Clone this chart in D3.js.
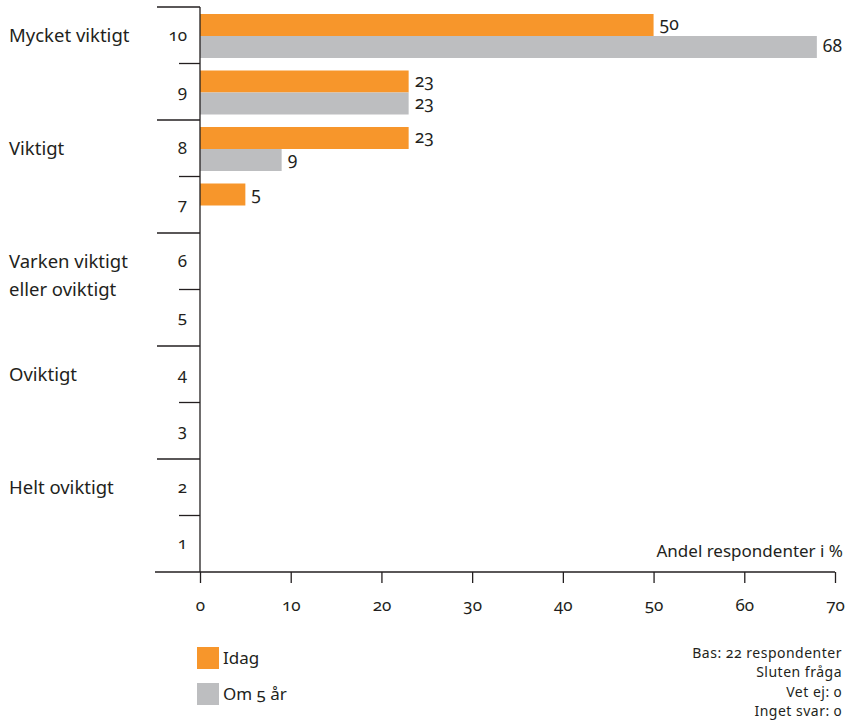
<!DOCTYPE html>
<html>
<head>
<meta charset="utf-8">
<script src="https://cdn.jsdelivr.net/npm/d3@7"></script>
<style>
  html, body { margin: 0; padding: 0; background: #fff; }
  svg { display: block; }
  text { font-family: "Noto Sans", "Open Sans", sans-serif; fill: #231f20; font-feature-settings: "onum" 1; font-variant-numeric: oldstyle-nums; }
</style>
</head>
<body>
<svg id="chart" width="846" height="727"></svg>
<script>
// Rating scale, top to bottom
const categories = ["10", "9", "8", "7", "6", "5", "4", "3", "2", "1"];
// Share of respondents (%) per rating
const idagValues = [50, 23, 23, 5, 0, 0, 0, 0, 0, 0];
const om5arValues = [68, 23, 9, 0, 0, 0, 0, 0, 0, 0];
const seriesNames = ["Idag", "Om 5 år"];
const seriesColors = ["#f7962b", "#bdbec0"];
const xTicks = [0, 10, 20, 30, 40, 50, 60, 70];
// Verbal anchors shown beside the scale
const groupLabels = [
  { cat: "10", lines: ["Mycket viktigt"] },
  { cat: "8", lines: ["Viktigt"] },
  { cat: "6", lines: ["Varken viktigt", "eller oviktigt"] },
  { cat: "4", lines: ["Oviktigt"] },
  { cat: "2", lines: ["Helt oviktigt"] }
];
const axisTitle = "Andel respondenter i %";
const notes = ["Bas: 22 respondenter", "Sluten fråga", "Vet ej: 0", "Inget svar: 0"];

const svg = d3.select("#chart");
const axisColor = "#231f20";

const x = d3.scaleLinear().domain([0, 70]).range([200, 835]);
const y = d3.scaleBand().domain(categories).range([7, 572]).padding(0);
const barH = 22;
const barTop = 7;

// Bars
const series = [idagValues, om5arValues];
series.forEach((vals, s) => {
  const data = categories.map((c, i) => ({ c, v: vals[i] })).filter(d => d.v > 0);
  svg.append("g").selectAll("rect").data(data).join("rect")
    .attr("x", x(0))
    .attr("y", d => y(d.c) + barTop + s * barH)
    .attr("width", d => x(d.v) - x(0))
    .attr("height", barH)
    .attr("fill", seriesColors[s]);
  svg.append("g").selectAll("text").data(data).join("text")
    .attr("x", d => x(d.v) + 6)
    .attr("y", d => y(d.c) + barTop + s * barH + barH / 2)
    .attr("dy", "0.3em")
    .attr("font-size", 17.5)
    .text(d => d.v);
});

// X axis
const xAxis = svg.append("g").attr("transform", "translate(0,572)")
  .call(d3.axisBottom(x).tickValues(xTicks).tickSize(11).tickPadding(16).tickFormat(d3.format("d")));
xAxis.select(".domain").remove();
xAxis.selectAll(".tick line").attr("stroke", axisColor).attr("stroke-width", 1.3);
xAxis.selectAll(".tick text").attr("font-size", 17).attr("font-family", null).attr("fill", axisColor);
svg.append("line").attr("x1", 155).attr("x2", x(70)).attr("y1", 572).attr("y2", 572)
  .attr("stroke", axisColor).attr("stroke-width", 1.3);

// Y axis line
svg.append("line").attr("x1", x(0)).attr("x2", x(0)).attr("y1", y.range()[0]).attr("y2", 572)
  .attr("stroke", axisColor).attr("stroke-width", 1.3);

// Category separators: long between verbal groups, short inside them
const bounds = categories.map((c, i) => ({ yv: y(c), long: i % 2 === 0 }));
svg.append("g").selectAll("line").data(bounds).join("line")
  .attr("x1", d => d.long ? 157 : 179)
  .attr("x2", x(0))
  .attr("y1", d => d.yv).attr("y2", d => d.yv)
  .attr("stroke", axisColor).attr("stroke-width", 1.3);

// Rating labels
const yAxis = svg.append("g").attr("transform", `translate(${x(0)},0)`)
  .call(d3.axisLeft(y).tickSize(0).tickPadding(13));
yAxis.select(".domain").remove();
yAxis.selectAll(".tick text").attr("font-size", 17).attr("font-family", null).attr("fill", axisColor);

// Verbal group labels
groupLabels.forEach(g => {
  const t = svg.append("text").attr("x", 9).attr("y", y(g.cat) + y.bandwidth() / 2)
    .attr("font-size", 18.5);
  g.lines.forEach((l, i) => {
    t.append("tspan").attr("x", 9).attr("dy", i === 0 ? "0.35em" : "28").text(l);
  });
});

// Axis title
svg.append("text").attr("x", 843).attr("y", 557).attr("text-anchor", "end")
  .attr("font-size", 17).text(axisTitle);

// Legend
seriesNames.forEach((n, i) => {
  const ly = 647 + i * 36;
  svg.append("rect").attr("x", 197).attr("y", ly).attr("width", 22).attr("height", 22)
    .attr("fill", seriesColors[i]);
  svg.append("text").attr("x", 223).attr("y", ly + 11).attr("dy", "0.35em")
    .attr("font-size", 17).text(n);
});

// Notes block, right-aligned, one line per note
svg.append("g").selectAll("text").data(notes).join("text")
  .attr("x", 842).attr("y", (d, i) => 658 + i * 19.3)
  .attr("text-anchor", "end").attr("font-size", 14)
  .attr("letter-spacing", 0.5).text(d => d);
</script>
</body>
</html>
